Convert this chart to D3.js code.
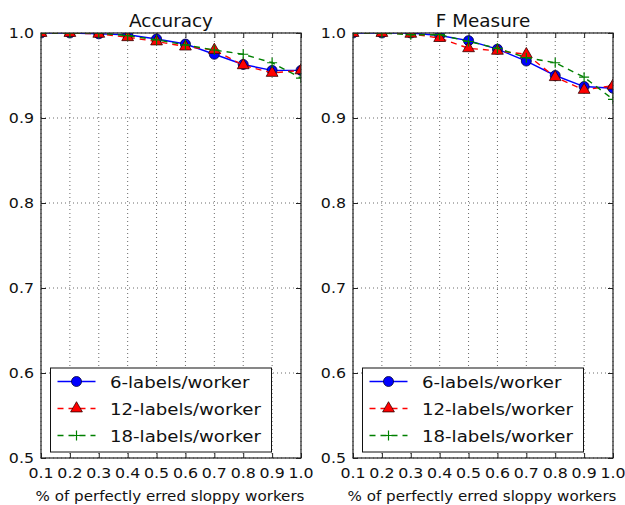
<!DOCTYPE html>
<html>
<head>
<meta charset="utf-8">
<script src="https://cdn.jsdelivr.net/npm/d3@7"></script>
<style>
  html, body { margin: 0; padding: 0; background: #fff; }
  svg text { font-family: "DejaVu Sans", sans-serif; fill: #111; }
</style>
</head>
<body>
<div id="chart"></div>
<script>
// Fraction of perfectly erred sloppy workers
const xValues = [0.1, 0.2, 0.3, 0.4, 0.5, 0.6, 0.7, 0.8, 0.9, 1.0];
const xTicks = [0.1, 0.2, 0.3, 0.4, 0.5, 0.6, 0.7, 0.8, 0.9, 1.0];
const yTicks = [0.5, 0.6, 0.7, 0.8, 0.9, 1.0];

const seriesNames = ["6-labels/worker", "12-labels/worker", "18-labels/worker"];

const accuracy6  = [1.000, 1.000, 0.999, 0.998, 0.993, 0.987, 0.975, 0.963, 0.956, 0.956];
const accuracy12 = [1.000, 1.000, 0.999, 0.995, 0.990, 0.984, 0.980, 0.962, 0.953, 0.956];
const accuracy18 = [1.000, 1.000, 1.000, 0.997, 0.992, 0.986, 0.980, 0.975, 0.965, 0.947];

const fmeasure6  = [1.000, 1.000, 1.000, 0.997, 0.991, 0.981, 0.967, 0.950, 0.937, 0.935];
const fmeasure12 = [1.000, 1.000, 0.999, 0.994, 0.982, 0.979, 0.975, 0.948, 0.933, 0.938];
const fmeasure18 = [1.000, 1.000, 0.998, 0.998, 0.990, 0.982, 0.971, 0.965, 0.948, 0.922];

const panels = [
  { title: "Accuracy",  left: 41,  series: [accuracy6, accuracy12, accuracy18] },
  { title: "F Measure", left: 353, series: [fmeasure6, fmeasure12, fmeasure18] }
];

const styles = [
  { color: "#0000ff", dash: null,  marker: "circle" },
  { color: "#ff0000", dash: "6,5", marker: "triangle" },
  { color: "#008000", dash: "6,5", marker: "plus" }
];

const W = 625, H = 505;
const plotW = 260, plotTop = 33, plotBottom = 458;

const svg = d3.select("#chart").append("svg")
  .attr("width", W).attr("height", H);

// Text with a slightly widened glyph shape
function addText(parent, x, y, str, size, anchor, sx) {
  return parent.append("g").attr("transform", `translate(${x},${y}) scale(${sx},1)`)
    .append("text").attr("text-anchor", anchor).attr("font-size", size).text(str);
}

function drawMarker(g, type, x, y, color) {
  if (type === "circle") {
    g.append("circle").attr("cx", x).attr("cy", y).attr("r", 5)
      .attr("fill", color).attr("stroke", "#000033").attr("stroke-width", 0.8);
  } else if (type === "triangle") {
    const s = d3.symbol().type(d3.symbolTriangle).size(60);
    g.append("path").attr("d", s()).attr("transform", `translate(${x},${y})`)
      .attr("fill", color).attr("stroke", "#330000").attr("stroke-width", 0.8);
  } else {
    g.append("path").attr("d", `M${x - 5},${y}H${x + 5}M${x},${y - 5}V${y + 5}`)
      .attr("stroke", color).attr("stroke-width", 1.2).attr("fill", "none");
  }
}

panels.forEach((p, pi) => {
  const x = d3.scaleLinear().domain([0.1, 1.0]).range([p.left, p.left + plotW]);
  const y = d3.scaleLinear().domain([0.5, 1.0]).range([plotBottom, plotTop]);
  const g = svg.append("g");

  // grid
  g.append("g").selectAll("line").data(xTicks).join("line")
    .attr("x1", d => x(d)).attr("x2", d => x(d)).attr("y1", plotTop).attr("y2", plotBottom)
    .attr("stroke", "#444").attr("stroke-width", 0.8).attr("stroke-dasharray", "1,3");
  g.append("g").selectAll("line").data(yTicks).join("line")
    .attr("x1", p.left).attr("x2", p.left + plotW).attr("y1", d => y(d)).attr("y2", d => y(d))
    .attr("stroke", "#444").attr("stroke-width", 0.8).attr("stroke-dasharray", "1,3");

  // axes with inward ticks
  const xAxisT = d3.axisTop(x).tickValues(xTicks).tickSize(-5).tickFormat("");
  const xAxisB = d3.axisBottom(x).tickValues(xTicks).tickSize(-5).tickFormat("");
  const yAxisL = d3.axisLeft(y).tickValues(yTicks).tickSize(-5).tickFormat("");
  const yAxisR = d3.axisRight(y).tickValues(yTicks).tickSize(-5).tickFormat("");
  [[xAxisT, `translate(0,${plotTop})`], [xAxisB, `translate(0,${plotBottom})`],
   [yAxisL, `translate(${p.left},0)`], [yAxisR, `translate(${p.left + plotW},0)`]]
    .forEach(([ax, tr]) => {
      const a = g.append("g").attr("transform", tr).call(ax);
      a.select(".domain").remove();
      a.selectAll("line").attr("stroke", "#222");
    });

  // tick labels
  const fmt = d3.format(".1f");
  xTicks.forEach(t => addText(g, x(t), plotBottom + 20, fmt(t), 14, "middle", 1.13));
  yTicks.forEach(t => addText(g, p.left - 7, y(t) + 5, fmt(t), 14, "end", 1.13));

  // title and axis label
  addText(g, p.left + plotW / 2, 27, p.title, 17.5, "middle", 1.05);
  addText(g, p.left + plotW / 2 - 1, 500.5, "% of perfectly erred sloppy workers", 13.5, "middle", 1.12);

  // clip region for data
  const clipId = "clip" + pi;
  svg.append("clipPath").attr("id", clipId).append("rect")
    .attr("x", p.left).attr("y", plotTop).attr("width", plotW).attr("height", plotBottom - plotTop);
  const data = g.append("g").attr("clip-path", `url(#${clipId})`);

  const line = d3.line().x((d, i) => x(xValues[i])).y(d => y(d));
  p.series.forEach((vals, si) => {
    const st = styles[si];
    data.append("path").attr("d", line(vals)).attr("fill", "none")
      .attr("stroke", st.color).attr("stroke-width", 1.4)
      .attr("stroke-dasharray", st.dash);
    vals.forEach((v, i) => drawMarker(data, st.marker, x(xValues[i]), y(v), st.color));
  });

  // frame
  g.append("rect").attr("x", p.left).attr("y", plotTop).attr("width", plotW).attr("height", plotBottom - plotTop)
    .attr("fill", "none").attr("stroke", "#222").attr("stroke-width", 1.2);

  // legend
  const lg = g.append("g").attr("transform", `translate(${p.left + 9.5},368)`);
  lg.append("rect").attr("x", 0).attr("y", 0).attr("width", 221).attr("height", 84)
    .attr("fill", "#fff").attr("stroke", "#111").attr("stroke-width", 1);
  seriesNames.forEach((name, si) => {
    const st = styles[si];
    const cy = 13.5 + si * 27;
    lg.append("line").attr("x1", 7).attr("x2", 45).attr("y1", cy).attr("y2", cy)
      .attr("stroke", st.color).attr("stroke-width", 1.4).attr("stroke-dasharray", st.dash);
    drawMarker(lg, st.marker, 26, cy, st.color);
    addText(lg, 59.5, cy + 6, name, 16.5, "start", 1.1);
  });
});
</script>
</body>
</html>
